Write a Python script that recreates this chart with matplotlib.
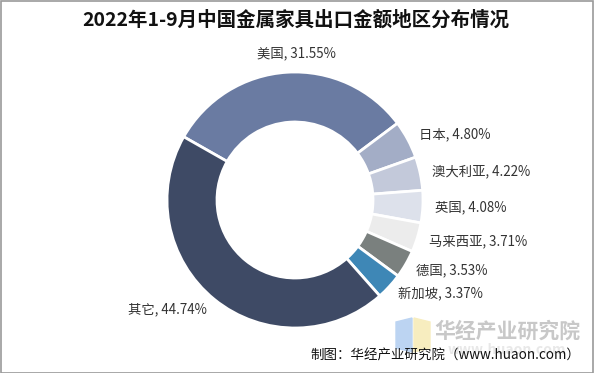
import numpy as np
import matplotlib.pyplot as plt
from matplotlib.patches import Rectangle, Polygon

plt.rcParams['font.family'] = ['Noto Sans CJK SC', 'DejaVu Sans']

regions = ["美国", "日本", "澳大利亚", "英国", "马来西亚", "德国", "新加坡", "其它"]
shares = [31.55, 4.80, 4.22, 4.08, 3.71, 3.53, 3.37, 44.74]
colors = ["#6a7ba2", "#a3adc6", "#c3c9da", "#dde1eb", "#ececec", "#7a807e", "#3e87b6", "#3e4a65"]

W, H = 594, 373
cx, cy = 295, H - 200
fig = plt.figure(figsize=(W / 100, H / 100), dpi=100)
ax = fig.add_axes([0, 0, 1, 1])

labels = [f"{r}, {v:.2f}%" for r, v in zip(regions, shares)]
wedges, texts = ax.pie(shares, labels=labels, colors=colors, startangle=150.4, counterclock=False,
                       radius=128, center=(cx, cy), labeldistance=1.095,
                       wedgeprops=dict(width=50, edgecolor="white", linewidth=2),
                       textprops=dict(fontsize=9.6, color="#333333"))
# pie picks alignment from absolute x, fix it relative to the centre
for w, t in zip(wedges, texts):
    a = np.deg2rad((w.theta1 + w.theta2) / 2)
    c = np.cos(a)
    if abs(c) < 0.15:
        t.set_ha("center")
        x, y = t.get_position()
        t.set_position((x + 10, y + 7))
    else:
        t.set_ha("left" if c > 0 else "right")

ax.set_xlim(0, W)
ax.set_ylim(0, H)
ax.set_aspect("equal")
ax.axis("off")

fig.text(296 / W, 1 - 20 / H, "2022年1-9月中国金属家具出口金额地区分布情况", ha="center", va="center",
         fontsize=14, fontweight="bold", color="#111111")

# watermark
ax.add_patch(Polygon([(396, H - 322), (412, H - 318), (412, H - 352), (396, H - 348)],
                     closed=True, color="#bcd4f2", zorder=0))
ax.add_patch(Polygon([(414, H - 318), (430, H - 322), (430, H - 348), (414, H - 352)],
                     closed=True, color="#f7edbf", zorder=0))
ax.text(507, H - 331, "华经产业研究院", ha="center", va="center", fontsize=15, fontweight="bold",
        color="#c8c8c8", zorder=0)
ax.text(507, H - 350, "www.huaon.com", ha="center", va="center", fontsize=10, fontweight="bold",
        color="#e8e8e8", zorder=0)

fig.text(580 / W, 1 - 356 / H, "制图：华经产业研究院（www.huaon.com）", ha="right", va="center",
         fontsize=9.7, color="#111111")

fig.patches.append(Rectangle((0.5 / W, 0.5 / H), 1 - 1.5 / W, 1 - 1.5 / H, transform=fig.transFigure,
                             fill=False, edgecolor="#9a9a9a", linewidth=1.2))

fig.savefig("out.png", dpi=100)
